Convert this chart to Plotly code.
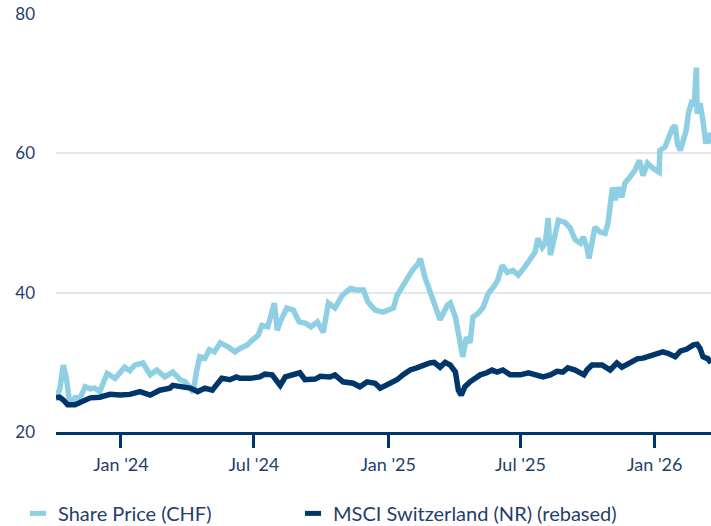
import plotly.graph_objects as go

share_dates = [
    "2023-10-04", "2023-10-09", "2023-10-14", "2023-10-18", "2023-10-23", "2023-10-30",
    "2023-11-06", "2023-11-13", "2023-11-20", "2023-11-26", "2023-12-03", "2023-12-13",
    "2023-12-24", "2024-01-06", "2024-01-13", "2024-01-20", "2024-01-31", "2024-02-10",
    "2024-02-19", "2024-03-01", "2024-03-12", "2024-03-22", "2024-03-29", "2024-04-09",
    "2024-04-13", "2024-04-18", "2024-04-25", "2024-05-01", "2024-05-08", "2024-05-16",
    "2024-05-27", "2024-06-05", "2024-06-12", "2024-06-22", "2024-06-29", "2024-07-07",
    "2024-07-12", "2024-07-20", "2024-07-29", "2024-08-02", "2024-08-06", "2024-08-15",
    "2024-08-24", "2024-09-01", "2024-09-10", "2024-09-17", "2024-09-26", "2024-10-04",
    "2024-10-11", "2024-10-20", "2024-10-30", "2024-11-10", "2024-11-19", "2024-11-28",
    "2024-12-04", "2024-12-14", "2024-12-25", "2025-01-08", "2025-01-13", "2025-01-20",
    "2025-01-28", "2025-02-03", "2025-02-11", "2025-02-14", "2025-02-20", "2025-02-27",
    "2025-03-06", "2025-03-13", "2025-03-23", "2025-03-27", "2025-04-03", "2025-04-09",
    "2025-04-13", "2025-04-18", "2025-04-23", "2025-04-27", "2025-05-04", "2025-05-11",
    "2025-05-18", "2025-05-25", "2025-05-31", "2025-06-06", "2025-06-13", "2025-06-21",
    "2025-06-28", "2025-07-07", "2025-07-14", "2025-07-21", "2025-07-25", "2025-07-31",
    "2025-08-04", "2025-08-08", "2025-08-11", "2025-08-15", "2025-08-22", "2025-08-31",
    "2025-09-07", "2025-09-14", "2025-09-21", "2025-09-25", "2025-09-30", "2025-10-03",
    "2025-10-07", "2025-10-11", "2025-10-18", "2025-10-25", "2025-10-29", "2025-11-04",
    "2025-11-08", "2025-11-12", "2025-11-17", "2025-11-21", "2025-11-28", "2025-12-05",
    "2025-12-11", "2025-12-16", "2025-12-22", "2025-12-30", "2026-01-07", "2026-01-08",
    "2026-01-15", "2026-01-19", "2026-01-25", "2026-01-29", "2026-02-01", "2026-02-05",
    "2026-02-09", "2026-02-13", "2026-02-16", "2026-02-20", "2026-02-24", "2026-02-27",
    "2026-02-28", "2026-03-04", "2026-03-08", "2026-03-12", "2026-03-16", "2026-03-19",
]
share_values = [
    25.3, 26.0, 29.6, 27.9, 23.9, 24.9,
    24.9, 26.5, 26.2, 26.3, 25.8, 28.4,
    27.7, 29.3, 28.8, 29.6, 29.9, 28.2,
    28.9, 27.9, 28.6, 27.5, 27.2, 25.7,
    28.5, 30.8, 30.6, 31.8, 31.5, 32.8,
    32.2, 31.5, 32.0, 32.5, 33.2, 33.9,
    35.3, 35.1, 38.5, 34.6, 35.8, 37.8,
    37.5, 35.8, 35.6, 35.1, 35.8, 34.3,
    38.5, 37.8, 39.6, 40.6, 40.4, 40.4,
    38.7, 37.5, 37.2, 37.8, 39.6, 40.8,
    42.3, 43.2, 44.2, 44.9, 42.3, 40.4,
    38.5, 36.1, 38.2, 38.5, 36.5, 32.8,
    30.8, 33.6, 32.8, 36.5, 37.0, 37.9,
    39.9, 40.8, 41.8, 43.9, 42.9, 43.2,
    42.5, 43.7, 44.9, 45.8, 47.8, 46.5,
    47.1, 50.7, 45.4, 47.2, 50.4, 50.1,
    49.3, 47.6, 47.1, 48.0, 46.5, 44.9,
    47.5, 49.4, 48.7, 48.5, 50.0, 55.1,
    53.3, 55.1, 53.7, 55.7, 56.6, 57.6,
    59.0, 56.8, 58.6, 57.8, 57.3, 60.4,
    60.9, 61.9, 63.6, 64.0, 61.4, 60.4,
    61.9, 63.3, 65.7, 67.2, 66.9, 72.3,
    65.7, 67.2, 64.7, 61.4, 62.9, 61.4,
]

msci_dates = [
    "2023-10-04", "2023-10-09", "2023-10-14", "2023-10-20", "2023-10-30", "2023-11-06",
    "2023-11-20", "2023-12-03", "2023-12-17", "2023-12-31", "2024-01-13", "2024-01-27",
    "2024-02-03", "2024-02-10", "2024-02-23", "2024-03-08", "2024-03-12", "2024-03-22",
    "2024-03-29", "2024-04-05", "2024-04-15", "2024-04-25", "2024-05-05", "2024-05-12",
    "2024-05-18", "2024-05-29", "2024-06-07", "2024-06-12", "2024-06-26", "2024-07-09",
    "2024-07-16", "2024-07-26", "2024-08-06", "2024-08-13", "2024-08-24", "2024-09-02",
    "2024-09-09", "2024-09-23", "2024-09-30", "2024-10-13", "2024-10-20", "2024-10-31",
    "2024-11-14", "2024-11-23", "2024-12-03", "2024-12-14", "2024-12-21", "2025-01-03",
    "2025-01-13", "2025-01-21", "2025-01-31", "2025-02-09", "2025-02-18", "2025-02-27",
    "2025-03-05", "2025-03-13", "2025-03-20", "2025-03-27", "2025-04-03", "2025-04-07",
    "2025-04-11", "2025-04-16", "2025-04-23", "2025-04-30", "2025-05-07", "2025-05-16",
    "2025-05-23", "2025-05-30", "2025-06-07", "2025-06-17", "2025-07-01", "2025-07-12",
    "2025-07-21", "2025-08-01", "2025-08-11", "2025-08-20", "2025-08-28", "2025-09-04",
    "2025-09-14", "2025-09-21", "2025-09-26", "2025-09-30", "2025-10-07", "2025-10-14",
    "2025-10-21", "2025-11-01", "2025-11-10", "2025-11-17", "2025-11-28", "2025-12-08",
    "2025-12-16", "2025-12-26", "2026-01-04", "2026-01-12", "2026-01-19", "2026-01-29",
    "2026-02-05", "2026-02-14", "2026-02-23", "2026-02-28", "2026-03-04", "2026-03-08",
    "2026-03-15", "2026-03-19",
]
msci_values = [
    24.9, 25.0, 24.6, 23.9, 23.9, 24.3,
    24.9, 25.0, 25.4, 25.3, 25.4, 25.8,
    25.6, 25.3, 26.0, 26.3, 26.7, 26.5,
    26.5, 26.3, 25.8, 26.3, 26.0, 27.0,
    27.7, 27.5, 27.9, 27.7, 27.7, 27.9,
    28.3, 28.2, 26.7, 27.9, 28.2, 28.5,
    27.5, 27.6, 28.0, 27.9, 28.2, 27.2,
    27.0, 26.5, 27.2, 27.0, 26.3, 27.0,
    27.5, 28.2, 28.9, 29.2, 29.6, 29.9,
    30.0, 29.3, 30.0, 29.6, 28.6, 26.0,
    25.3, 26.5, 27.2, 27.7, 28.2, 28.5,
    28.9, 28.6, 28.9, 28.2, 28.2, 28.5,
    28.3, 27.9, 28.2, 28.7, 28.6, 29.2,
    28.9, 28.6, 28.2, 28.9, 29.6, 29.6,
    29.6, 28.9, 29.9, 29.3, 30.0, 30.5,
    30.6, 31.0, 31.2, 31.5, 31.3, 30.8,
    31.6, 31.9, 32.5, 32.6, 32.0, 30.8,
    30.5, 29.9,
]

series_names = ["Share Price (CHF)", "MSCI Switzerland (NR) (rebased)"]
y_ticks = [20, 40, 60, 80]
x_range = ["2023-10-04", "2026-03-19"]

LIGHT = "#8ecfe3"
NAVY = "#003669"
TEXT = "#1f3f6d"
FONT = "Lato"

fig = go.Figure()
fig.add_trace(go.Scatter(x=share_dates, y=share_values, mode="lines",
                         line=dict(color=LIGHT, width=5.5), showlegend=False))
fig.add_trace(go.Scatter(x=msci_dates, y=msci_values, mode="lines",
                         line=dict(color=NAVY, width=5.5), showlegend=False))
# legend entries (one legend box each)
for name, col, lg in zip(series_names, [LIGHT, NAVY], ["legend", "legend2"]):
    fig.add_trace(go.Scatter(x=[None], y=[None], mode="markers", name=name,
                             legend=lg,
                             marker=dict(symbol="line-ew", size=11.5,
                                         line=dict(color=col, width=5))))

legend_common = dict(orientation="h", xref="container", yref="container",
                     y=0.024, xanchor="left", yanchor="middle",
                     font=dict(size=20, color=TEXT, family=FONT),
                     bgcolor="rgba(0,0,0,0)")

fig.update_layout(
    width=711, height=526,
    margin=dict(l=56, r=0, t=14, b=94),
    paper_bgcolor="white", plot_bgcolor="white",
    font=dict(family=FONT, color=TEXT, size=17),
    showlegend=True,
    legend=dict(x=18 / 711, **legend_common),
    legend2=dict(x=293 / 711, **legend_common),
    xaxis=dict(range=x_range, type="date", showgrid=False, zeroline=False,
               showline=True, linecolor=NAVY, linewidth=2.5,
               ticks="outside", ticklen=13, tickwidth=2.5, tickcolor=NAVY,
               tick0="2024-01-01", dtick="M6", tickformat="%b '%y",
               ticklabelstandoff=2,
               tickfont=dict(size=18, color=TEXT, family=FONT)),
    yaxis=dict(range=[20, 80], tickvals=y_ticks, showgrid=True,
               gridcolor="#e3e7ec", gridwidth=1.5, zeroline=False,
               showline=False, ticks="", ticklabelstandoff=20,
               tickfont=dict(size=17, color=TEXT, family=FONT)),
)

fig.write_html("out.html", config={"displayModeBar": False},
               post_script="document.body.style.margin='0px';")
